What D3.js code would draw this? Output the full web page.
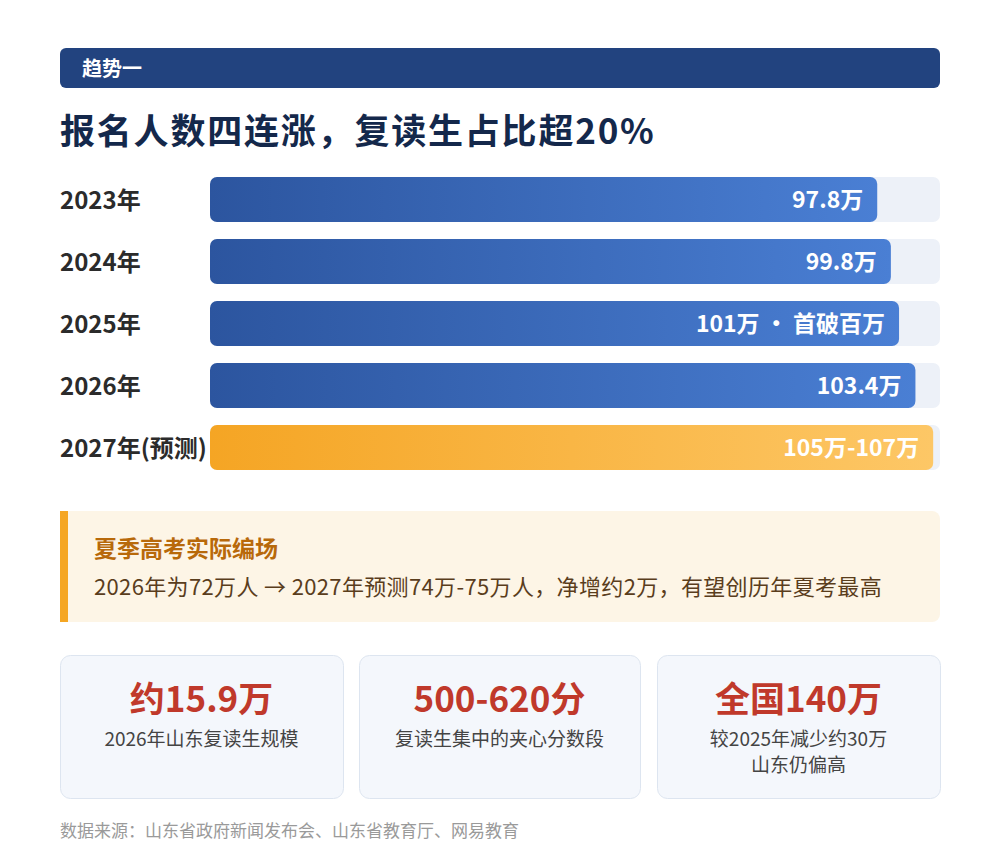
<!DOCTYPE html>
<html><head><meta charset="utf-8">
<script src="https://cdn.jsdelivr.net/npm/d3@7"></script>
<style>body{margin:0;background:#fff;font-family:"Noto Sans CJK SC","Noto Sans",sans-serif}</style>
</head><body><div id="chart"></div>
<script>
const years = ['2023年', '2024年', '2025年', '2026年', '2027年(预测)']
const values = [97.8, 99.8, 101, 103.4, 106]
const valueLabels = ['97.8万', '99.8万', '101万 • 首破百万', '103.4万', '105万-107万']
const forecast = [false, false, false, false, true]
const cardValues = ['约15.9万', '500-620分', '全国140万']
const cardNotes = [['2026年山东复读生规模'], ['复读生集中的夹心分数段'], ['较2025年减少约30万', '山东仍偏高']]

const W = 1000, H = 846
const svg = d3.select('#chart').append('svg').attr('width', W).attr('height', H)
const defs = svg.append('defs')
function grad(id, a, b) {
  const g = defs.append('linearGradient').attr('id', id)
  g.append('stop').attr('offset', '0%').attr('stop-color', a)
  g.append('stop').attr('offset', '100%').attr('stop-color', b)
}
grad('blue', '#2c559f', '#4a7fd4')
grad('orange', '#f5a524', '#fdc766')

// header
svg.append('rect').attr('x', 60).attr('y', 48).attr('width', 880).attr('height', 40).attr('rx', 6).attr('fill', '#22437f')
svg.append('text').attr('x', 82).attr('y', 76).attr('fill', '#fff').attr('font-size', 20).attr('font-weight', 700).text('趋势一')
svg.append('text').attr('x', 60).attr('y', 144).attr('fill', '#14284b').attr('font-size', 35).attr('font-weight', 700)
  .attr('letter-spacing', 1.8).text('报名人数四连涨，复读生占比超20%')

const x = d3.scaleLinear().domain([0, 107]).range([210, 940])
const y = d3.scaleBand().domain(years).range([177, 470]).paddingInner(17 / 62).paddingOuter(0)

const rows = svg.selectAll('g.row').data(years).enter().append('g')
rows.append('text').attr('x', 60).attr('y', d => y(d) + y.bandwidth() / 2 + 9)
  .attr('font-size', 24).attr('font-weight', 700).attr('fill', '#2b2b2b').text(d => d)
rows.append('rect').attr('x', x(0)).attr('y', d => y(d)).attr('width', x(107) - x(0)).attr('height', y.bandwidth())
  .attr('rx', 7).attr('fill', '#edf1f8')
rows.append('rect').attr('x', x(0)).attr('y', d => y(d)).attr('width', (d, i) => x(values[i]) - x(0)).attr('height', y.bandwidth())
  .attr('rx', 7).attr('fill', (d, i) => forecast[i] ? 'url(#orange)' : 'url(#blue)')
rows.append('text').attr('x', (d, i) => x(values[i]) - 14).attr('y', d => y(d) + y.bandwidth() / 2 + 8)
  .attr('text-anchor', 'end').attr('font-size', 23).attr('font-weight', 700).attr('fill', '#fff').text((d, i) => valueLabels[i])

// callout
svg.append('rect').attr('x', 60).attr('y', 511).attr('width', 880).attr('height', 111).attr('rx', 8).attr('fill', '#fdf5e6')
svg.append('rect').attr('x', 60).attr('y', 511).attr('width', 8).attr('height', 111).attr('fill', '#f5a623')
svg.append('text').attr('x', 94).attr('y', 557).attr('font-size', 23).attr('font-weight', 700).attr('fill', '#b8690a').text('夏季高考实际编场')
svg.append('text').attr('x', 94).attr('y', 595).attr('font-size', 22).attr('fill', '#5a3d1c').attr('letter-spacing', 0.35)
  .text('2026年为72万人 → 2027年预测74万-75万人，净增约2万，有望创历年夏考最高')

// cards
const cx = [60, 359, 657], cw = [283, 281, 283]
cardValues.forEach((v, i) => {
  const g = svg.append('g')
  g.append('rect').attr('x', cx[i] + 0.5).attr('y', 655.5).attr('width', cw[i]).attr('height', 143).attr('rx', 10)
    .attr('fill', '#f4f7fc').attr('stroke', '#dde5f0')
  const mid = cx[i] + cw[i] / 2
  g.append('text').attr('x', mid).attr('y', 712).attr('text-anchor', 'middle').attr('font-size', 35).attr('font-weight', 700)
    .attr('fill', '#c0392b').text(v)
  cardNotes[i].forEach((t, j) => g.append('text').attr('x', mid).attr('y', 746 + j * 26).attr('text-anchor', 'middle')
    .attr('font-size', 19).attr('fill', '#444').text(t))
})

svg.append('text').attr('x', 60).attr('y', 837).attr('font-size', 17).attr('fill', '#9a9a9a')
  .text('数据来源：山东省政府新闻发布会、山东省教育厅、网易教育')
</script></body></html>
